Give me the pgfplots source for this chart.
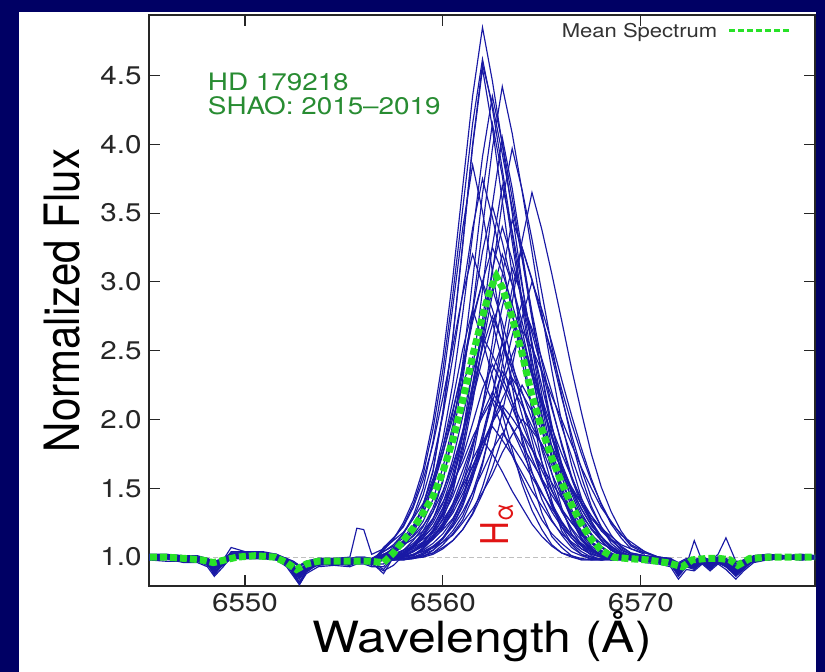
\documentclass[border=0pt]{standalone}
\usepackage{pgfplots}
\usepackage{pgfplotstable}
\pgfplotsset{compat=1.18}
\usepackage{fontspec}
\setmainfont{TeX Gyre Heros}[FakeStretch=1.16]
\newfontfamily\plainheros{TeX Gyre Heros}
\definecolor{bgnavy}{RGB}{0,0,100}
\definecolor{specblue}{RGB}{25,25,165}
\definecolor{meangreen}{RGB}{40,225,40}
\definecolor{txtgreen}{RGB}{40,140,50}
\definecolor{halred}{RGB}{225,20,20}

\pgfplotstableread{
w c1 c2 c3 c4 c5 c6 c7 c8 c9 c10 c11 c12 c13 c14 c15 c16 c17 c18 c19 c20 c21 c22 c23 c24 c25 c26 c27 c28
6545.1 1.00 1.01 0.99 1.02 1.00 0.98 1.01 1.00 0.99 1.01 1.00 0.98 1.02 1.00 0.99 1.01 0.98 1.00 1.01 0.99 1.02 0.99 1.00 1.01 0.98 1.00 1.01 0.99
6546.0 1.00 1.01 1.00 1.02 1.00 0.99 1.01 0.99 0.99 1.01 1.00 0.97 1.02 1.00 0.99 1.01 0.99 1.00 1.01 0.99 1.02 1.00 1.00 1.01 0.99 1.00 1.01 0.99
6546.9 0.99 1.00 0.98 1.01 0.99 0.97 0.99 0.99 0.98 1.00 0.98 0.97 1.01 0.98 0.99 1.00 0.96 0.99 1.00 0.98 1.00 0.98 0.99 1.00 0.97 0.99 1.00 0.98
6547.6 0.99 1.00 0.98 1.00 0.99 0.97 0.99 1.00 0.98 1.00 0.98 0.97 1.01 0.98 0.99 1.00 0.96 0.99 1.00 0.98 1.00 0.98 0.99 1.00 0.97 0.99 1.00 0.98
6548.1 0.97 0.97 0.97 0.98 0.98 0.94 0.96 0.97 0.95 0.99 0.95 0.95 0.99 0.95 0.98 0.97 0.93 0.98 0.97 0.96 0.96 0.95 0.97 0.97 0.95 0.96 0.99 0.96
6548.45 0.93 0.92 0.93 0.92 0.96 0.90 0.88 0.93 0.89 0.96 0.89 0.92 0.94 0.87 0.95 0.93 0.86 0.94 0.91 0.92 0.89 0.90 0.94 0.91 0.90 0.92 0.97 0.92
6548.9 0.97 0.97 0.97 0.98 0.98 0.94 0.96 0.96 0.95 0.99 0.95 0.95 0.99 0.95 0.98 0.97 0.93 0.98 0.97 0.96 0.96 0.95 0.97 0.97 0.95 0.96 0.99 0.96
6549.3 1.01 1.02 1.00 1.07 1.01 0.99 1.03 1.01 1.00 1.02 1.02 0.99 1.03 1.02 1.00 1.02 1.00 1.01 1.02 1.00 1.04 1.00 1.01 1.03 0.99 1.01 1.02 1.00
6550.0 1.01 1.02 1.00 1.04 1.01 0.99 1.03 1.02 1.00 1.02 1.02 0.99 1.03 1.02 1.00 1.02 1.00 1.01 1.02 1.00 1.04 1.00 1.01 1.03 0.99 1.01 1.02 1.00
6550.9 1.01 1.02 1.00 1.03 1.01 0.99 1.03 1.00 1.00 1.02 1.02 0.99 1.03 1.02 1.00 1.02 1.00 1.01 1.02 1.00 1.04 1.00 1.01 1.03 0.99 1.01 1.02 1.00
6551.6 1.00 1.01 0.99 1.02 1.00 0.98 1.01 1.00 0.99 1.01 1.00 0.98 1.02 1.00 0.99 1.01 0.98 1.00 1.01 0.99 1.02 0.99 1.00 1.01 0.98 1.00 1.01 0.99
6552.1 0.97 0.97 0.97 0.98 0.98 0.94 0.96 0.96 0.95 0.99 0.95 0.95 0.99 0.95 0.98 0.97 0.93 0.98 0.97 0.96 0.96 0.95 0.97 0.97 0.95 0.96 0.99 0.96
6552.45 0.93 0.92 0.93 0.92 0.96 0.90 0.88 0.93 0.89 0.96 0.89 0.92 0.94 0.87 0.95 0.93 0.86 0.94 0.91 0.92 0.89 0.90 0.94 0.91 0.90 0.92 0.97 0.92
6552.75 0.89 0.87 0.90 0.86 0.93 0.85 0.81 0.89 0.84 0.93 0.82 0.88 0.90 0.80 0.94 0.88 0.80 0.91 0.86 0.88 0.81 0.85 0.90 0.85 0.86 0.87 0.94 0.88
6553.1 0.94 0.93 0.94 0.93 0.96 0.91 0.90 0.95 0.91 0.97 0.90 0.93 0.95 0.89 0.96 0.94 0.88 0.95 0.93 0.93 0.91 0.91 0.95 0.92 0.91 0.93 0.97 0.93
6553.7 0.97 0.97 0.97 0.98 0.98 0.94 0.96 0.97 0.95 0.99 0.95 0.95 0.99 0.95 0.98 0.97 0.93 0.98 0.97 0.96 0.96 0.95 0.97 0.97 0.95 0.96 0.99 0.96
6554.5 0.97 0.98 0.97 0.98 0.98 0.95 0.96 0.98 0.95 0.99 0.96 0.95 0.99 0.95 0.98 0.97 0.94 0.98 0.97 0.96 0.97 0.95 0.97 0.97 0.95 0.96 0.99 0.96
6555.3 0.97 0.97 0.97 0.98 0.98 0.94 0.96 0.97 0.95 1.00 0.95 0.95 0.99 0.95 0.98 0.97 0.93 0.98 0.97 0.96 0.96 0.95 0.97 0.97 0.95 0.96 0.99 0.96
6555.65 0.98 0.98 0.97 0.99 0.99 0.96 0.97 0.98 0.96 1.21 0.97 0.96 1.00 0.96 0.98 0.99 0.95 0.98 0.98 0.97 0.98 0.96 0.98 0.98 0.96 0.98 1.00 0.97
6556.0 0.98 0.98 0.97 0.99 0.99 0.96 0.97 0.97 0.96 1.20 0.97 0.96 1.00 0.96 0.98 0.99 0.95 0.98 0.98 0.97 0.98 0.96 0.98 0.98 0.96 0.98 1.00 0.97
6556.4 0.97 0.97 0.97 0.98 0.98 0.94 0.96 0.98 0.95 1.02 0.95 0.95 0.99 0.95 0.98 0.97 0.93 0.98 0.97 0.96 0.96 0.95 0.97 0.97 0.95 0.96 0.99 0.96
6557.0 1.06 1.05 1.02 1.00 0.98 1.01 0.98 1.01 0.99 1.06 0.98 1.02 1.02 0.95 0.99 0.99 0.93 0.99 0.91 1.00 0.88 0.90 0.99 1.04 0.98 0.98 0.98 1.07
6557.5 1.13 1.13 1.02 1.01 0.99 1.07 0.98 1.03 1.00 1.12 0.99 1.06 1.05 1.02 1.00 1.00 1.01 1.01 1.00 1.02 1.00 0.94 0.99 1.08 1.01 0.98 0.98 1.14
6558.0 1.25 1.23 1.09 1.05 1.01 1.17 0.98 1.08 1.03 1.18 1.00 1.12 1.10 1.05 1.01 1.01 1.04 1.03 1.03 1.05 1.02 1.01 1.00 1.14 1.01 1.01 0.99 1.22
6558.5 1.41 1.38 1.21 1.12 1.04 1.30 0.99 1.16 1.08 1.28 1.02 1.20 1.15 1.10 1.04 1.04 1.08 1.06 1.07 1.08 1.05 1.04 1.02 1.23 1.08 1.01 1.00 1.36
6559.0 1.64 1.60 1.37 1.22 1.10 1.50 1.01 1.26 1.15 1.39 1.06 1.32 1.23 1.17 1.08 1.09 1.14 1.10 1.11 1.13 1.09 1.08 1.04 1.36 1.19 1.06 1.03 1.56
6559.5 1.99 1.93 1.62 1.36 1.19 1.84 1.03 1.42 1.25 1.57 1.13 1.51 1.33 1.28 1.13 1.15 1.22 1.15 1.19 1.18 1.14 1.14 1.07 1.54 1.33 1.16 1.07 1.82
6560.0 2.45 2.36 2.05 1.56 1.31 2.27 1.09 1.65 1.39 1.80 1.21 1.75 1.48 1.44 1.20 1.25 1.35 1.22 1.30 1.27 1.23 1.24 1.11 1.76 1.55 1.28 1.14 2.16
6560.5 3.03 2.91 2.59 1.87 1.49 2.82 1.17 1.96 1.61 2.07 1.34 2.05 1.67 1.65 1.28 1.39 1.52 1.32 1.44 1.38 1.35 1.37 1.16 2.01 1.93 1.47 1.23 2.53
6561.0 3.69 3.53 3.26 2.29 1.76 3.39 1.27 2.34 1.90 2.36 1.53 2.39 1.90 1.92 1.41 1.58 1.73 1.46 1.63 1.52 1.49 1.54 1.25 2.26 2.41 1.80 1.37 2.91
6561.5 4.35 4.15 3.98 2.80 2.12 3.85 1.43 2.78 2.26 2.71 1.79 2.74 2.15 2.22 1.58 1.81 1.97 1.61 1.83 1.66 1.66 1.71 1.35 2.45 3.01 2.20 1.57 3.20
6562.0 4.85 4.62 4.55 3.39 2.56 3.51 1.67 3.22 2.67 3.00 2.10 3.00 2.44 2.52 1.78 2.08 2.22 1.79 2.04 1.83 1.82 1.85 1.47 2.30 3.64 2.72 1.84 2.98
6562.5 4.46 4.26 4.12 3.97 3.07 3.08 1.99 3.55 3.09 3.25 2.46 2.80 2.69 2.75 2.00 2.35 2.40 1.98 2.20 1.98 1.95 1.75 1.60 2.13 4.15 3.26 2.18 2.71
6563.0 4.00 3.82 3.59 4.42 3.58 2.64 2.40 3.29 3.40 3.07 2.82 2.56 2.90 2.57 2.25 2.55 2.26 2.15 2.08 2.10 1.85 1.62 1.76 1.94 3.77 3.70 2.57 2.42
6563.5 3.50 3.35 3.05 4.08 3.97 2.24 2.85 2.98 3.16 2.84 3.10 2.29 2.75 2.36 2.47 2.39 2.09 2.30 1.93 2.01 1.74 1.48 1.89 1.74 3.29 3.37 2.95 2.13
6564.0 2.99 2.87 2.55 3.66 3.67 1.84 3.30 2.65 2.87 2.59 2.89 2.03 2.55 2.13 2.65 2.20 1.90 2.19 1.77 1.90 1.61 1.36 2.00 1.57 2.82 2.97 3.25 1.87
6564.5 2.53 2.44 2.05 3.22 3.31 1.55 3.65 2.32 2.55 2.36 2.63 1.79 2.34 1.90 2.52 2.00 1.72 2.06 1.61 1.78 1.48 1.24 1.92 1.41 2.37 2.56 3.02 1.62
6565.0 2.10 2.04 1.69 2.77 2.92 1.32 3.38 2.01 2.24 2.12 2.36 1.57 2.15 1.69 2.35 1.80 1.55 1.92 1.47 1.66 1.37 1.15 1.82 1.27 1.93 2.18 2.75 1.42
6565.5 1.75 1.71 1.41 2.36 2.53 1.15 3.06 1.73 1.95 1.89 2.08 1.38 1.94 1.49 2.17 1.61 1.39 1.79 1.33 1.54 1.26 1.08 1.70 1.17 1.61 1.80 2.46 1.27
6566.0 1.48 1.45 1.19 1.98 2.18 1.07 2.72 1.49 1.68 1.68 1.83 1.24 1.75 1.33 2.00 1.44 1.26 1.64 1.22 1.43 1.17 1.03 1.60 1.10 1.36 1.52 2.16 1.16
6566.5 1.29 1.27 1.09 1.67 1.85 1.01 2.37 1.31 1.46 1.50 1.59 1.14 1.58 1.21 1.82 1.29 1.16 1.51 1.14 1.33 1.11 1.01 1.49 1.04 1.17 1.31 1.89 1.07
6567.0 1.13 1.13 1.02 1.43 1.58 0.98 2.05 1.19 1.29 1.35 1.40 1.06 1.42 1.12 1.65 1.18 1.09 1.39 1.08 1.24 1.06 0.99 1.39 1.01 1.08 1.14 1.64 1.02
6567.5 1.06 1.05 0.98 1.26 1.37 0.98 1.75 1.08 1.17 1.23 1.26 1.02 1.30 1.05 1.50 1.11 1.04 1.28 1.03 1.16 1.02 0.98 1.30 0.99 1.01 1.06 1.43 1.00
6568.0 1.02 1.02 0.98 1.12 1.22 0.99 1.51 1.03 1.08 1.15 1.15 1.00 1.19 1.02 1.36 1.04 1.01 1.20 1.00 1.10 1.00 0.98 1.21 0.98 0.98 1.01 1.28 0.98
6568.5 0.99 0.98 0.99 1.05 1.10 0.99 1.33 1.01 1.03 1.07 1.06 0.99 1.12 1.00 1.26 1.01 0.99 1.13 0.99 1.06 0.99 0.99 1.15 0.99 0.98 0.98 1.16 0.99
6569.0 0.99 0.99 0.99 1.01 1.04 0.99 1.19 0.99 1.00 1.03 1.02 0.99 1.06 0.99 1.16 1.00 0.99 1.08 0.99 1.02 0.99 0.99 1.09 0.99 0.99 0.98 1.07 0.99
6569.5 0.99 0.99 1.00 0.99 1.01 1.00 1.09 0.99 0.99 1.00 1.00 0.99 1.02 0.99 1.11 0.99 0.99 1.03 0.99 1.00 0.99 0.99 1.06 0.99 0.99 0.99 1.03 0.99
6570.2 0.99 1.00 0.98 1.01 0.99 0.97 1.04 0.99 0.98 1.00 0.98 0.97 1.01 0.98 1.04 1.00 0.96 1.01 1.00 0.98 1.00 0.98 1.03 1.00 0.97 0.99 1.01 0.98
6570.9 0.98 0.98 0.97 0.99 0.99 0.96 0.99 0.99 0.96 1.00 0.97 0.96 1.00 0.96 1.00 0.99 0.95 0.98 0.98 0.97 0.98 0.96 1.00 0.98 0.96 0.98 1.00 0.97
6571.5 0.97 0.97 0.97 0.98 0.98 0.94 0.96 0.97 0.95 0.99 0.95 0.95 0.99 0.95 0.98 0.97 0.93 0.98 0.97 0.96 0.96 0.95 0.97 0.97 0.95 0.96 0.99 0.96
6571.9 0.92 0.91 0.93 0.90 0.95 0.88 0.87 0.93 0.88 0.95 0.87 0.91 0.93 0.86 0.95 0.91 0.84 0.94 0.90 0.91 0.87 0.89 0.93 0.89 0.89 0.90 0.96 0.91
6572.3 0.96 0.96 0.96 0.96 0.98 0.93 0.94 0.96 0.93 0.98 0.94 0.94 0.98 0.93 0.97 0.96 0.91 0.97 0.95 0.95 0.94 0.94 0.96 0.95 0.94 0.95 0.99 0.95
6572.7 0.95 0.95 0.95 0.95 0.97 0.92 1.12 0.94 0.92 0.98 0.92 0.94 0.97 0.91 0.97 0.95 0.90 0.96 0.94 0.94 0.93 0.93 0.96 0.94 0.93 0.94 0.98 0.94
6573.1 0.98 0.98 0.97 0.99 0.99 0.96 0.97 0.98 0.96 1.00 0.97 0.96 1.00 0.96 0.98 0.99 0.95 0.98 0.98 0.97 0.98 0.96 0.98 0.98 0.96 0.98 1.00 0.97
6573.5 0.95 0.95 0.95 0.95 0.97 0.92 0.92 0.96 0.92 0.98 0.92 0.94 0.97 0.91 0.97 0.95 0.90 0.96 0.94 0.94 0.93 0.93 0.96 0.94 0.93 0.94 0.98 0.94
6573.9 0.98 0.98 0.97 0.99 0.99 0.96 0.97 0.98 0.96 1.00 0.97 0.96 1.00 0.96 1.02 0.99 0.95 0.98 0.98 0.97 0.98 0.96 0.98 0.98 0.96 0.98 1.00 0.97
6574.3 0.96 0.96 0.96 0.96 0.98 0.93 0.94 0.95 0.93 0.98 0.94 0.94 0.98 0.93 1.14 0.96 0.91 0.97 0.95 0.95 0.94 0.94 0.96 0.95 0.94 0.95 0.99 0.95
6574.8 0.92 0.91 0.93 0.90 0.95 0.88 0.87 0.92 0.88 0.95 0.87 0.91 0.93 0.86 0.97 0.91 0.84 0.94 0.90 0.91 0.87 0.89 0.93 0.89 0.89 0.90 0.96 0.91
6575.2 0.95 0.95 0.95 0.95 0.97 0.92 0.92 0.96 0.92 0.98 0.92 0.94 0.97 0.91 0.97 0.95 0.90 0.96 0.94 0.94 0.93 0.93 0.96 0.94 0.93 0.94 0.98 0.94
6575.7 0.99 1.00 0.98 1.01 0.99 0.97 0.99 0.99 0.98 1.00 0.98 0.97 1.01 0.98 0.99 1.00 0.96 0.99 1.00 0.98 1.00 0.98 0.99 1.00 0.97 0.99 1.00 0.98
6576.4 1.00 1.01 0.99 1.02 1.00 0.98 1.01 1.00 0.99 1.01 1.00 0.98 1.02 1.00 0.99 1.01 0.98 1.00 1.01 0.99 1.02 0.99 1.00 1.01 0.98 1.00 1.01 0.99
6577.3 1.00 1.00 1.00 1.01 1.00 0.99 1.01 0.99 0.99 1.01 1.00 0.99 1.01 1.00 1.00 1.01 0.99 1.00 1.00 0.99 1.01 1.00 1.00 1.01 0.99 1.00 1.01 0.99
6578.1 1.00 1.01 0.99 1.02 1.00 0.98 1.01 1.00 0.99 1.01 1.00 0.98 1.02 1.00 0.99 1.01 0.98 1.00 1.01 0.99 1.01 0.99 1.00 1.01 0.98 1.00 1.01 0.99
6578.9 1.00 1.00 1.00 1.01 1.00 0.99 1.01 0.99 0.99 1.01 1.00 0.99 1.01 1.00 1.00 1.01 0.99 1.00 1.00 0.99 1.01 1.00 1.00 1.01 0.99 1.00 1.01 0.99
}\spectra

\pgfplotstableread{
w e1 e2 e3 e4 e5 e6 e7 e8 e9 e10 e11 e12 e13 e14 e15 e16
6556.4 0.98 0.98 0.97 0.99 0.97 0.97 0.96 0.97 0.98 0.96 0.97 0.99 0.96 0.97 0.95 0.97
6557.0 1.02 1.01 0.98 1.04 0.98 0.99 0.98 0.98 1.00 0.98 0.98 1.02 0.98 1.00 0.98 0.98
6557.5 1.02 1.05 0.98 1.09 0.98 1.00 1.00 0.98 1.00 0.99 0.98 1.05 0.98 1.03 0.99 0.98
6558.0 1.09 1.11 1.01 1.17 0.98 1.02 1.00 0.99 1.03 1.00 0.99 1.09 0.99 1.10 1.00 0.98
6558.5 1.21 1.22 1.01 1.28 1.00 1.07 1.04 1.00 1.09 1.01 0.99 1.13 0.99 1.18 1.02 0.99
6559.0 1.38 1.35 1.07 1.45 1.00 1.14 1.11 1.02 1.16 1.05 1.02 1.19 1.01 1.31 1.04 1.00
6559.5 1.63 1.55 1.18 1.70 1.05 1.22 1.20 1.05 1.27 1.10 1.07 1.28 1.03 1.53 1.08 1.02
6560.0 2.06 1.86 1.32 2.03 1.14 1.36 1.33 1.11 1.47 1.17 1.13 1.40 1.07 1.80 1.14 1.06
6560.5 2.60 2.26 1.53 2.45 1.25 1.56 1.57 1.19 1.71 1.27 1.23 1.54 1.12 2.14 1.22 1.12
6561.0 3.28 2.77 1.90 2.92 1.42 1.82 1.87 1.30 2.02 1.43 1.39 1.69 1.20 2.51 1.33 1.20
6561.5 4.00 3.34 2.36 3.39 1.72 2.16 2.24 1.47 2.34 1.63 1.60 1.87 1.31 2.80 1.47 1.32
6562.0 4.58 3.91 2.94 3.75 2.09 2.53 2.63 1.69 2.60 1.89 1.86 2.02 1.46 2.58 1.62 1.51
6562.5 4.29 4.35 3.56 3.47 2.56 2.91 2.95 1.97 2.47 2.18 2.13 2.15 1.65 2.31 1.78 1.75
6563.0 3.93 4.01 4.05 3.14 3.05 3.20 2.71 2.29 2.31 2.48 2.35 2.06 1.87 2.04 1.90 2.05
6563.5 3.54 3.61 3.68 2.78 3.45 2.98 2.42 2.61 2.13 2.70 2.24 1.94 2.08 1.78 1.81 2.39
6564.0 3.18 3.17 3.22 2.42 3.25 2.71 2.12 2.85 1.97 2.53 2.10 1.81 2.25 1.53 1.70 2.74
6564.5 2.78 2.73 2.76 2.09 3.01 2.42 1.85 2.66 1.79 2.32 1.95 1.69 2.12 1.34 1.58 3.00
6565.0 2.42 2.33 2.33 1.78 2.73 2.13 1.57 2.44 1.63 2.10 1.82 1.57 1.97 1.20 1.46 2.80
6565.5 2.10 1.96 1.90 1.53 2.49 1.87 1.37 2.20 1.48 1.87 1.67 1.45 1.81 1.09 1.35 2.56
6566.0 1.81 1.65 1.59 1.34 2.22 1.62 1.22 1.95 1.35 1.67 1.53 1.34 1.64 1.03 1.25 2.29
6566.5 1.57 1.42 1.35 1.20 1.97 1.42 1.10 1.73 1.25 1.48 1.40 1.25 1.49 1.00 1.16 2.03
6567.0 1.38 1.25 1.16 1.09 1.75 1.27 1.04 1.52 1.16 1.32 1.30 1.17 1.35 0.98 1.10 1.79
6567.5 1.25 1.11 1.07 1.04 1.55 1.16 1.00 1.35 1.10 1.20 1.21 1.11 1.23 0.98 1.05 1.57
6568.0 1.12 1.05 1.01 1.01 1.39 1.07 0.98 1.22 1.04 1.12 1.13 1.07 1.15 0.98 1.02 1.38
6568.5 1.05 1.01 0.98 0.98 1.25 1.02 0.98 1.13 1.01 1.05 1.08 1.03 1.08 0.99 1.00 1.24
6569.0 1.02 0.98 0.98 0.98 1.17 1.00 0.99 1.05 1.00 1.01 1.03 1.00 1.03 0.99 0.99 1.14
6569.5 0.98 0.98 0.99 0.99 1.08 0.98 0.99 1.02 0.98 1.00 1.01 0.99 1.01 0.99 0.98 1.06
6570.2 0.99 0.98 0.98 0.98 1.03 0.98 0.98 1.00 0.98 0.99 0.99 0.98 0.99 0.98 0.98 1.02
}\extra

\begin{document}
\begin{tikzpicture}
\fill[bgnavy] (0bp,0bp) rectangle (825bp,672bp);
\fill[white] (19bp,0bp) rectangle (816bp,660bp);
\begin{axis}[
  at={(149bp,86bp)}, anchor=south west,
  width=666bp, height=571bp, scale only axis,
  xmin=6545.15, xmax=6578.8, ymin=0.79, ymax=4.94,
  xtick={6550,6560,6570},
  ytick={1.0,1.5,2.0,2.5,3.0,3.5,4.0,4.5},
  /pgf/number format/assume math mode=true,
  xticklabel style={/pgf/number format/1000 sep={}, yshift=-4bp},
  yticklabel style={/pgf/number format/.cd, fixed, fixed zerofill, precision=1, /tikz/.cd, xshift=-4bp},
  tick label style={font=\fontsize{25.5bp}{28bp}\selectfont, text=black!85},
  tick align=inside, major tick length=11bp,
  tick style={line width=1.1bp, black!85},
  axis line style={line width=1.2bp, black!85},
  xlabel={Wavelength (Å)},
  xlabel style={font=\fontsize{43bp}{45bp}\selectfont, at={(axis description cs:0.5,-0.1156)}, anchor=base},
  ylabel={Normalized Flux},
  ylabel style={font=\plainheros\fontsize{42bp}{44bp}\selectfont, at={(axis description cs:-0.130,0.5)}, anchor=center, yscale=1.16},
  legend plot pos=right,
  legend style={at={(axis description cs:0.967,0.99)}, anchor=north east, draw=none, fill=none, inner sep=0pt,
    column sep=8bp, font=\fontsize{19bp}{21bp}\selectfont, text=black!80},
]
\addplot[black!25, line width=0.8bp, dash pattern=on 5bp off 3bp, forget plot] coordinates {(6545.15,1.0) (6578.8,1.0)};
\pgfplotsinvokeforeach{1,...,28}{
  \addplot[specblue, line width=1.15bp, forget plot] table[x=w, y=c#1] {\spectra};
}
\pgfplotsinvokeforeach{1,...,16}{
  \addplot[specblue, line width=1.15bp, forget plot] table[x=w, y=e#1] {\extra};
}
\addplot[meangreen, line width=7bp, dash pattern=on 7bp off 3bp,
  legend image code/.code={\draw[meangreen, line width=3.5bp, dash pattern=on 6bp off 3bp] (0bp,0bp) -- (62bp,0bp);}]
  coordinates {
(6545.2,1.00) (6546.0,1.00) (6547.0,0.99) (6547.8,0.98) (6548.4,0.96) (6549.0,0.98) (6549.6,1.00)
(6550.5,1.01) (6551.5,1.00) (6552.1,0.96) (6552.6,0.91) (6553.1,0.95) (6553.7,0.97) (6554.5,0.97)
(6555.5,0.97) (6556.3,0.97) (6557.0,0.96) (6557.5,1.03) (6558.0,1.12) (6558.5,1.21) (6559.0,1.32)
(6559.5,1.44) (6560.0,1.62) (6560.5,1.85) (6561.0,2.14) (6561.5,2.46) (6562.0,2.75) (6562.4,2.95)
(6562.7,3.04) (6563.0,2.96) (6563.5,2.74) (6564.0,2.48) (6564.5,2.17) (6565.0,1.93) (6565.5,1.72)
(6566.0,1.54) (6566.5,1.38) (6567.0,1.24) (6567.5,1.13) (6568.0,1.05) (6568.6,1.00) (6569.3,0.99)
(6570.3,0.98) (6571.3,0.96) (6572.1,0.93) (6572.6,0.98) (6573.3,0.99) (6574.0,0.99) (6574.5,0.98)
(6574.9,0.94) (6575.5,0.99) (6576.5,1.00) (6577.5,1.00) (6578.8,1.00)
};
\addlegendentry{Mean Spectrum}
\node[anchor=base west, text=txtgreen, font=\fontsize{24bp}{26bp}\selectfont] at (axis cs:6547.95,4.39) {HD 179218};
\node[anchor=base west, text=txtgreen, font=\fontsize{24bp}{26bp}\selectfont] at (axis cs:6547.95,4.217) {SHAO: 2015--2019};
\node[rotate=90, yscale=1.16, text=halred, font=\plainheros\fontsize{33bp}{35bp}\selectfont, inner sep=0pt] at (axis cs:6562.73,1.24) {H\textsubscript{α}};
\end{axis}
\end{tikzpicture}
\end{document}
